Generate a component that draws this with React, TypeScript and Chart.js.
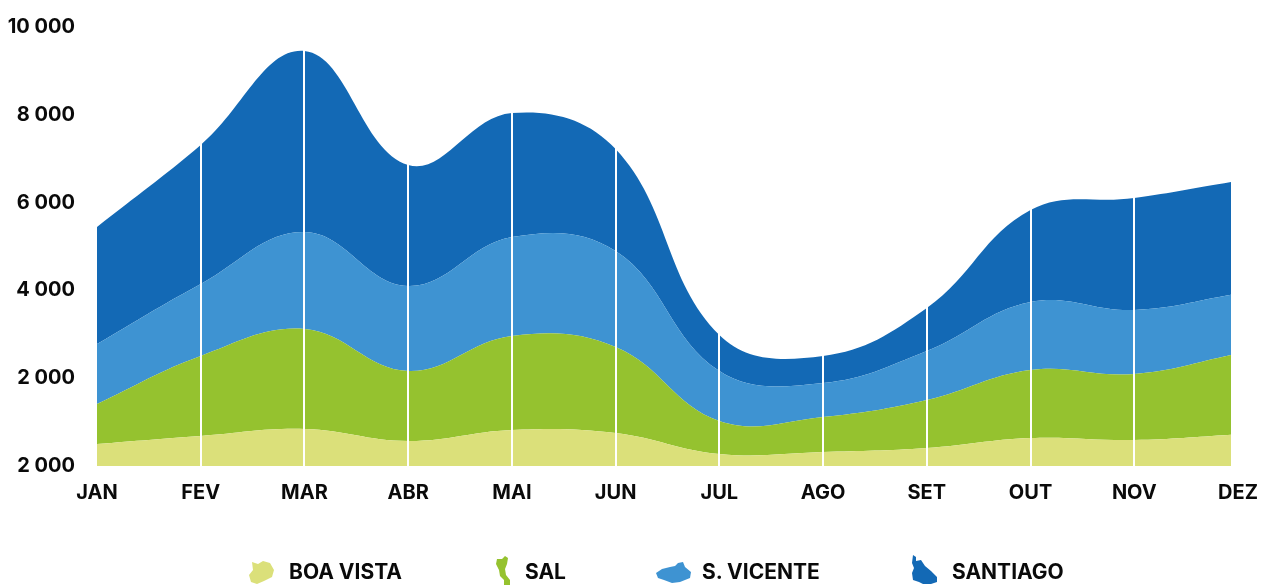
import React, { useEffect, useRef } from "react";
import { Chart, registerables } from "chart.js";

Chart.register(...registerables);

const months = ["JAN", "FEV", "MAR", "ABR", "MAI", "JUN", "JUL", "AGO", "SET", "OUT", "NOV", "DEZ"];
const boaVista = [500, 683, 843, 569, 820, 752, 273, 319, 410, 638, 592, 720];
const sal = [912, 1823, 2278, 1595, 2141, 1959, 752, 797, 1093, 1549, 1504, 1840];
const sVicente = [1367, 1640, 2209, 1936, 2255, 2186, 1139, 775, 1117, 1549, 1458, 1367];
const santiago = [2665, 3166, 4123, 2756, 2825, 2324, 820, 615, 979, 2095, 2551, 2570];
const seriesNames = ["BOA VISTA", "SAL", "S. VICENTE", "SANTIAGO"];
const seriesColors = ["#dbe07a", "#95c22f", "#3e93d2", "#1369b5"];
const yTickLabels: Record<number, string> = { 0: "2 000", 2000: "2 000", 4000: "4 000", 6000: "6 000", 8000: "8 000", 10000: "10 000" };

const FONT = "Inter, sans-serif";

const icons = [
  { left: 249, top: 560, w: 25, h: 24, path: "M3 2 L9 4 L14 1 L21 3 L25 10 L23 17 L15 21 L8 24 L2 22 L0 15 L4 10 Z" },
  { left: 496, top: 556, w: 15, h: 29, path: "M9 0 L12 2 L11 8 L9 13 L10 19 L14 24 L14 29 L8 29 L8 24 L4 20 L3 14 L0 8 L1 3 L6 3 Z" },
  { left: 656, top: 561, w: 35, h: 22, path: "M0 12 L6 8 L14 6 L19 5 L22 2 L27 1 L29 6 L35 11 L34 17 L24 21 L16 22 L8 19 L2 17 Z" },
  { left: 911, top: 555, w: 26, h: 29, path: "M2 0 L5 2 L5 6 L10 5 L14 11 L20 16 L26 22 L26 27 L20 29 L12 29 L8 27 L2 25 L1 18 L3 13 L1 8 Z" },
];
const legendTextLeft = [289, 525, 702, 952];

export default function App() {
  const ref = useRef<HTMLCanvasElement>(null);
  useEffect(() => {
    const values = [boaVista, sal, sVicente, santiago];
    const chart = new Chart(ref.current!, {
      type: "line",
      data: {
        labels: months,
        datasets: values.map((data, i) => ({
          label: seriesNames[i],
          data,
          backgroundColor: seriesColors[i],
          borderWidth: 0,
          pointRadius: 0,
          tension: 0.4,
          fill: i === 0 ? "origin" : "-1",
          clip: { left: 0, top: 20, right: -7, bottom: 0 },
        })),
      },
      options: {
        animation: false,
        responsive: false,
        layout: { padding: { left: 0, top: 27, right: 23, bottom: 0 } },
        plugins: { legend: { display: false }, tooltip: { enabled: false } },
        scales: {
          x: {
            offset: false,
            grid: {
              display: true,
              drawOnChartArea: true,
              drawTicks: true,
              tickLength: 14,
              tickColor: "rgba(0,0,0,0)",
              color: "#ffffff",
              lineWidth: (c: any) => (c.index === 0 || c.index === 11 ? 0 : 2),
              z: 1,
            },
            border: { display: false },
            ticks: { color: "#0a0a0a", font: { family: FONT, size: 20, weight: 700 }, padding: 1, maxRotation: 0, autoSkip: false },
            afterFit: (s: any) => { s.height = 119; },
          },
          y: {
            stacked: true,
            min: 0,
            max: 10000,
            grid: { display: false },
            border: { display: false },
            afterFit: (s: any) => { s.width = 97; },
            ticks: {
              stepSize: 2000,
              color: "#0a0a0a",
              padding: 14,
              font: { family: FONT, size: 20, weight: 700 },
              callback: (v: any) => yTickLabels[v as number],
            },
          },
        },
      },
    } as any);
    return () => chart.destroy();
  }, []);

  return (
    <div style={{ position: "fixed", left: 0, top: 0, width: 1261, height: 585, overflow: "hidden", background: "#fff" }}>
      <canvas ref={ref} width={1261} height={585} style={{ display: "block", width: 1261, height: 585 }} />
      {icons.map((ic, i) => (
        <svg key={i} width={ic.w} height={ic.h} style={{ position: "absolute", left: ic.left, top: ic.top }}>
          <path d={ic.path} fill={seriesColors[i]} />
        </svg>
      ))}
      {seriesNames.map((n, i) => (
        <div key={n} style={{ position: "absolute", left: legendTextLeft[i], top: 559, font: `700 21px ${FONT}`, color: "#0a0a0a", whiteSpace: "nowrap", lineHeight: "26px" }}>{n}</div>
      ))}
    </div>
  );
}
